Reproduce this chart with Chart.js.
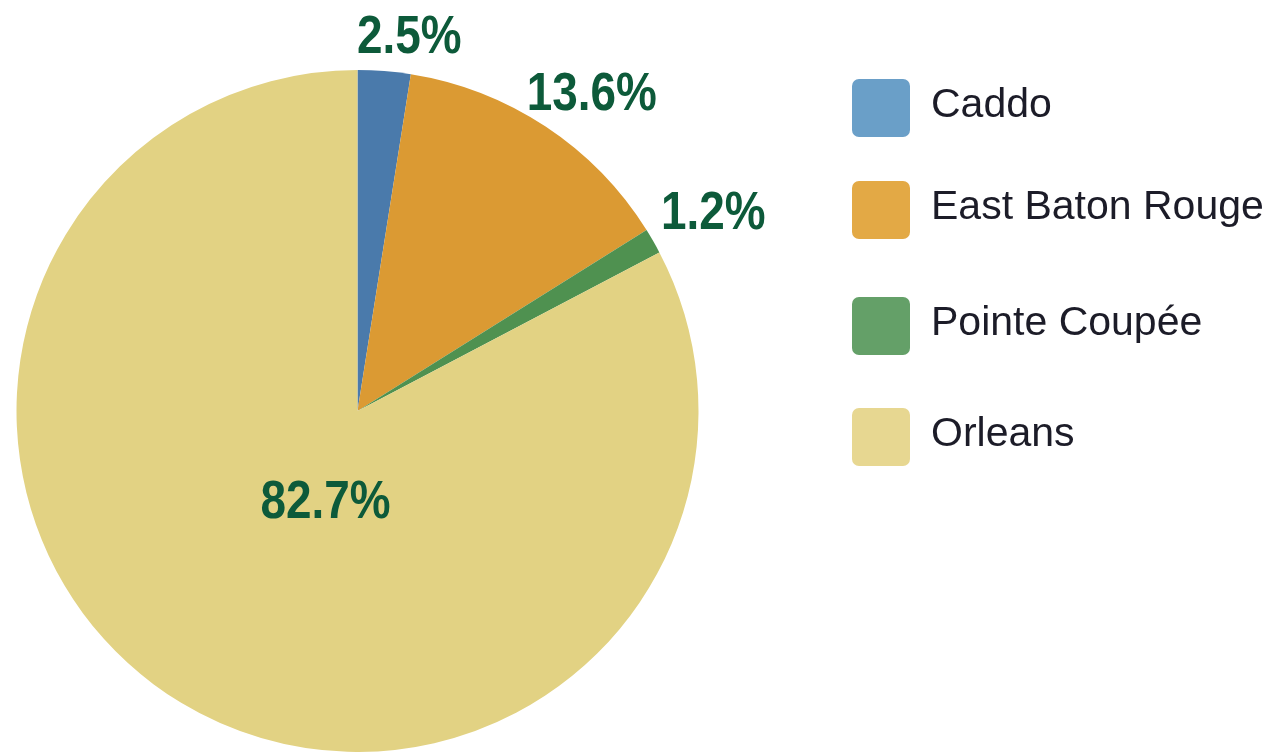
<!DOCTYPE html>
<html>
<head>
<meta charset="utf-8">
<script src="https://cdn.jsdelivr.net/npm/chart.js@4/dist/chart.umd.min.js"></script>
<style>
  html, body { margin: 0; padding: 0; background: #fff; }
  #wrap { width: 1274px; height: 752px; position: relative; }
</style>
</head>
<body>
<div id="wrap"><canvas id="pieChart" width="1274" height="752"></canvas></div>
<script>
// data
const parishes = ['Caddo', 'East Baton Rouge', 'Pointe Coupée', 'Orleans'];
const shares = [2.5, 13.6, 1.2, 82.7];

// colours
const sliceColors = ['#4a7aab', '#db9a33', '#4f9150', '#e2d283'];
const legendColors = ['#6a9fc8', '#e3a945', '#64a068', '#e7d791'];
const labelColor = '#0d5a3a';

// where each % label sits: radius factor along mid angle, then nudge
const labelPlace = [
    {k: 1.11, dx: 22, dy: 0},
    {k: 1.16, dx: 16, dy: 10},
    {k: 1.20, dx: 1, dy: 3},
    {k: 0.30, dx: 21, dy: 0}
];
const legendRows = [108, 210, 326, 437];
const narrow = 0.85; // fake a condensed face

const labelsPlugin = {
    id: 'pctLabels',
    afterDraw(chart) {
        const ctx = chart.ctx;
        const meta = chart.getDatasetMeta(0);
        ctx.save();
        ctx.font = 'bold 54px "Liberation Sans", Arial, sans-serif';
        ctx.fillStyle = labelColor;
        ctx.textAlign = 'center';
        ctx.textBaseline = 'alphabetic';
        meta.data.forEach((arc, i) => {
            const p = arc.getProps(['x', 'y', 'startAngle', 'endAngle', 'outerRadius'], true);
            const mid = (p.startAngle + p.endAngle) / 2;
            const r = p.outerRadius * labelPlace[i].k;
            const x = p.x + Math.cos(mid) * r + labelPlace[i].dx;
            const y = p.y + Math.sin(mid) * r + labelPlace[i].dy + 19;
            ctx.save();
            ctx.translate(x, y);
            ctx.scale(narrow, 1);
            ctx.fillText(shares[i].toFixed(1) + '%', 0, 0);
            ctx.restore();
        });

        // legend
        ctx.font = '41px "Liberation Sans", Arial, sans-serif';
        ctx.textAlign = 'left';
        ctx.textBaseline = 'middle';
        parishes.forEach((name, i) => {
            const cy = legendRows[i];
            ctx.fillStyle = legendColors[i];
            ctx.beginPath();
            ctx.roundRect(852, cy - 29, 58, 58, 7);
            ctx.fill();
            ctx.fillStyle = '#1c1c28';
            ctx.fillText(name, 931, cy - 2);
        });
        ctx.restore();
    }
};

let ctx = document.getElementById('pieChart').getContext('2d');
new Chart(ctx, {
    type: 'pie',
    data: {
        labels: parishes,
        datasets: [{
            data: shares,
            backgroundColor: sliceColors,
            borderWidth: 0
        }]
    },
    options: {
        responsive: false,
        animation: false,
        layout: { padding: { left: 15, top: 70, right: 574, bottom: 0 } },
        plugins: {
            legend: { display: false },
            tooltip: { enabled: false }
        }
    },
    plugins: [labelsPlugin]
});
</script>
</body>
</html>
